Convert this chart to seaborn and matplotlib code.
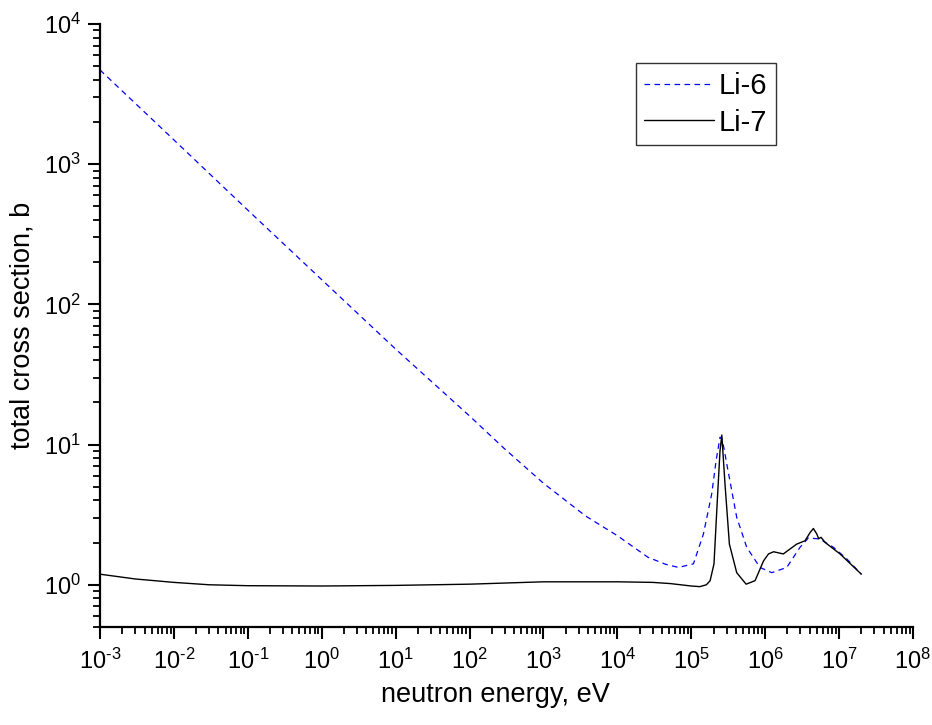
import math
import matplotlib
matplotlib.use("Agg")
import matplotlib.pyplot as plt
import matplotlib.ticker as mticker
import seaborn as sns

# DATA

li6_energy = [1e-3, 1e-2, 1e-1, 1e0, 1e1, 1e2, 3e2, 1e3, 3.7e3, 1e4, 2.6e4,
              4.5e4, 6.7e4, 1.07e5, 1.46e5, 1.89e5, 2.17e5, 2.45e5, 2.6e5,
              2.75e5, 3.08e5, 4.12e5, 5.63e5, 8.5e5, 1.23e6, 1.96e6, 2.96e6,
              3.85e6, 5.5e6, 8.4e6, 1.27e7, 2e7]
li6_sigma = [4700, 1490, 470, 150, 48, 16, 9.3, 5.3, 3.1, 2.24, 1.57,
             1.40, 1.33, 1.41, 2.30, 4.44, 7.7, 11.3, 11.0,
             9.6, 6.9, 3.03, 1.85, 1.33, 1.22, 1.33, 1.85,
             2.16, 2.12, 1.85, 1.53, 1.19]

li7_energy = [1e-3, 3e-3, 1e-2, 3e-2, 1e-1, 1e0, 1e1, 1e2, 1e3, 1e4, 3e4,
              5.2e4, 1e5, 1.31e5, 1.6e5, 1.8e5, 2.03e5, 2.25e5, 2.45e5,
              2.59e5, 2.86e5, 3.28e5, 4.12e5, 5.52e5, 7.3e5, 9.5e5, 1.11e6,
              1.3e6, 1.76e6, 2.67e6, 3.46e6, 4.06e6, 4.49e6, 5.0e6, 5.3e6,
              5.7e6, 6.5e6, 1.03e7, 2e7]
li7_sigma = [1.19, 1.10, 1.04, 1.00, 0.985, 0.98, 0.99, 1.01, 1.05, 1.05, 1.04,
             1.02, 0.98, 0.97, 1.00, 1.07, 1.41, 3.98, 9.06,
             11.7, 5.24, 1.95, 1.22, 1.01, 1.07, 1.48, 1.66,
             1.72, 1.66, 1.95, 2.06, 2.36, 2.52, 2.30, 2.13,
             2.18, 2.00, 1.66, 1.19]

x_label = "neutron energy, eV"
y_label = "total cross section, b"

# STYLE

sns.set_style("ticks")
plt.rcParams["font.family"] = ["Liberation Sans", "DejaVu Sans"]
plt.rcParams["mathtext.fontset"] = "custom"
plt.rcParams["mathtext.rm"] = "Liberation Sans"
plt.rcParams["mathtext.it"] = "Liberation Sans"
plt.rcParams["axes.unicode_minus"] = False
plt.rcParams["text.color"] = "black"
plt.rcParams["axes.labelcolor"] = "black"

fig = plt.figure(figsize=(9.32, 7.25), dpi=100)
ax = fig.add_axes([0.1073, 0.1352, 0.8723, 0.8317])

# CURVES

sns.lineplot(
    x=li6_energy,
    y=li6_sigma,
    ax=ax,
    color="#0000ff",
    linewidth=0.9,
    sort=False,
    label="Li-6"
)
ax.lines[-1].set_dashes((4.5, 3.5))

sns.lineplot(
    x=li7_energy,
    y=li7_sigma,
    ax=ax,
    color="black",
    linewidth=1.0,
    sort=False,
    label="Li-7"
)

# AXES

ax.set_xscale("log")
ax.set_yscale("log")
ax.set_xlim(1e-3, 1e8)
ax.set_ylim(0.5, 1e4)


def pow_label(v, pos):
    exp = round(math.log10(v))
    if exp < 0:
        return r"$\mathregular{10^{\text{-}%d}}$" % (-exp)
    return r"$\mathregular{10^{%d}}$" % exp


ax.xaxis.set_major_locator(mticker.LogLocator(base=10, numticks=20))
ax.xaxis.set_minor_locator(mticker.LogLocator(base=10, subs=range(2, 10), numticks=200))
ax.yaxis.set_major_locator(mticker.LogLocator(base=10, numticks=20))
ax.yaxis.set_minor_locator(mticker.LogLocator(base=10, subs=range(2, 10), numticks=200))
ax.xaxis.set_major_formatter(mticker.FuncFormatter(pow_label))
ax.yaxis.set_major_formatter(mticker.FuncFormatter(pow_label))
ax.xaxis.set_minor_formatter(mticker.NullFormatter())
ax.yaxis.set_minor_formatter(mticker.NullFormatter())

sns.despine(ax=ax)
for side in ["left", "bottom"]:
    ax.spines[side].set_linewidth(1.6)
    ax.spines[side].set_color("black")

ax.tick_params(which="major", length=8.5, width=1.5, labelsize=17, colors="black")
ax.tick_params(axis="x", which="major", pad=7)
ax.tick_params(axis="y", which="major", pad=5)
ax.tick_params(which="minor", length=4.8, width=1.3, colors="black")

ax.set_xlabel(x_label, fontsize=19.5)
ax.xaxis.set_label_coords(0.486, -0.112, transform=ax.transAxes)
ax.xaxis.label.set_va("center")
ax.set_ylabel(y_label, fontsize=19.5, labelpad=6)

leg = ax.legend(
    loc="upper right",
    bbox_to_anchor=(0.8315, 0.935),
    fontsize=21,
    frameon=True,
    fancybox=False,
    edgecolor="black",
    handlelength=2.4,
    handletextpad=0.15,
    labelspacing=0.3,
    borderpad=0.3,
    borderaxespad=0
)
leg.get_frame().set_linewidth(1.0)

fig.savefig("out.png", dpi=100)
plt.close()
